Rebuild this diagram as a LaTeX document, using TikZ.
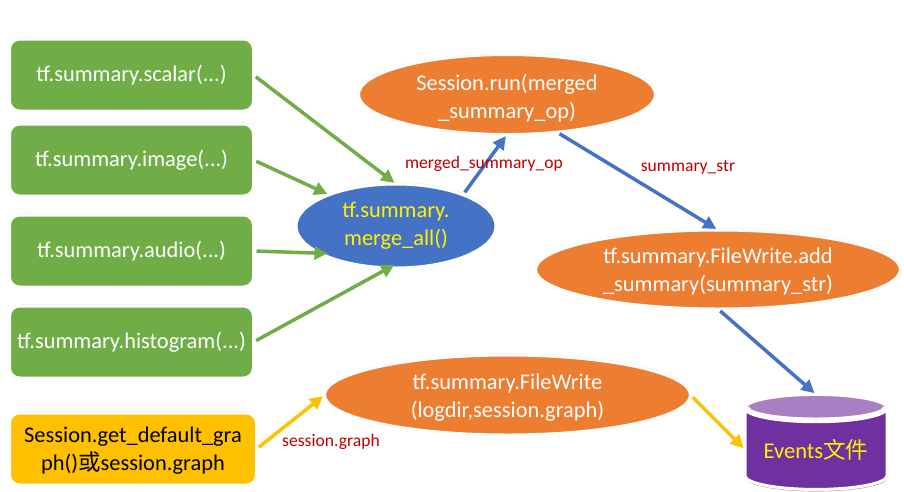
\documentclass[tikz,border=0pt]{standalone}
\usepackage{fontspec}
\setmainfont{Carlito}
\newfontfamily\cjk{Noto Sans CJK SC}
\usepackage{tikz}
\usetikzlibrary{arrows.meta,shapes.geometric,shadows}
\definecolor{leaf}{HTML}{70AD47}
\definecolor{sky}{HTML}{4472C4}
\definecolor{carrot}{HTML}{ED7D31}
\definecolor{gold}{HTML}{FFC000}
\definecolor{grape}{HTML}{7030A0}
\definecolor{lilac}{HTML}{A97FC4}
\definecolor{brick}{HTML}{C00000}
\newcommand{\tallline}[1]{\rule{0pt}{#1pt}}
\tikzset{
    softshadow/.style={drop shadow={opacity=.35,shadow xshift=.5pt,shadow yshift=1.5pt}},
    sumbox/.style={draw=white,line width=3pt,rounded corners=10pt,fill=leaf,text=white,
        minimum width=244pt,minimum height=72pt,inner sep=0pt,outer sep=0pt,align=center,
        font=\fontsize{22.4}{28}\selectfont,softshadow},
    oval/.style={ellipse,draw=white,line width=3pt,fill=carrot,text=white,inner xsep=-30pt,inner ysep=-10pt,outer sep=0pt,
        align=center,font=\fontsize{22.4}{28}\selectfont,softshadow},
    link/.style={line width=3.5pt,-{Triangle[length=13pt,width=13pt]},shorten <=3pt,shorten >=2pt},
    tag/.style={text=brick,inner sep=0pt,font=\fontsize{17.6}{20}\selectfont},
    drum/.style={cylinder,shape border rotate=90,aspect=.26,inner sep=0pt,outer sep=0pt,
        minimum width=142pt,minimum height=95pt,font=\fontsize{22.6}{24}\selectfont},
}
\begin{document}
\begin{tikzpicture}[x=1pt,y=-1pt]
    \useasboundingbox (0,0) rectangle (904,491);

    \node[sumbox] (scalar) at (131.5, 75) {tf.summary.scalar(...)};
    \node[sumbox] (image) at (131.5, 160) {tf.summary.image(...)};
    \node[sumbox] (audio) at (131.5, 251) {tf.summary.audio(...)};
    \node[sumbox] (histogram) at (131.5, 342) {tf.summary.histogram(...)};
    \node[sumbox,fill=gold,text=black,minimum width=247pt] (graph) at (133, 449)
        {\tallline{19}Session.get\_default\_gra\\ph(){\cjk 或}session.graph};

    \node[oval,fill=sky,text=yellow,minimum width=200pt,minimum height=84pt] (merge) at (396, 226)
        {tf.summary.\\merge\_all()};
    \node[oval,minimum width=297pt,minimum height=80pt] (run) at (507, 94.5)
        {\tallline{23}Session.run(merged\\\_summary\_op)};
    \node[oval,minimum width=365pt,minimum height=79pt] (add) at (718, 269.5)
        {\tallline{20}tf.summary.FileWrite.add\\\_summary(summary\_str)};
    \node[oval,minimum width=366pt,minimum height=80pt] (write) at (507.5, 395)
        {\tallline{21}tf.summary.FileWrite\\(logdir,session.graph)};

    % data file
    \node[drum,fill=black,opacity=.3,text opacity=0] (eventshade) at (816.5, 451) {Events{\cjk 文件}};
    \node[drum,draw=white,line width=3pt,cylinder uses custom fill,
        cylinder body fill=grape,cylinder end fill=lilac,text=yellow] (events) at (816, 449.5) {Events{\cjk 文件}};
    \draw[white,line width=3pt] (747.5, 407) arc[start angle=180,end angle=0,x radius=68.5,y radius=12];

    \draw[link,leaf] (scalar.east) -- (merge.north);
    \draw[link,leaf] (image.east) -- (merge.155);
    \draw[link,leaf] (audio.east) -- ([xshift=9pt]merge.200);
    \draw[link,leaf] (histogram.east) -- ([yshift=4pt]merge.south);
    \draw[link,sky] (merge.25) -- (run.south);
    \draw[link,sky] (run.-37) -- (add.north);
    \draw[link,sky] (add.south) -- (events.north);
    \draw[link,gold] (graph.east) -- (write.west);
    \draw[link,gold] (write.east) -- (events.west);

    \node[tag] (opname) at (484, 164) {merged\_summary\_op};
    \node[tag] (strname) at (688, 167) {summary\_str};
    \node[tag] (graphname) at (331, 442) {session.graph};
\end{tikzpicture}
\end{document}
